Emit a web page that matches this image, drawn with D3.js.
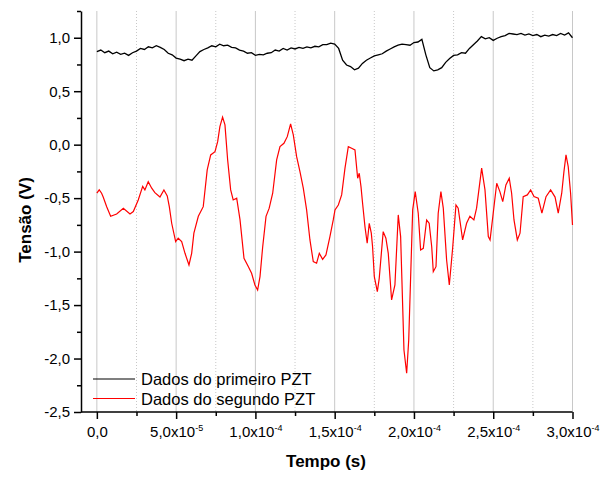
<!DOCTYPE html>
<html>
<head>
<meta charset="utf-8">
<script src="https://cdn.jsdelivr.net/npm/d3@7"></script>
<style>
  body { margin: 0; background: #fff; }
  text { font-family: Arial, "Liberation Sans", sans-serif; fill: #000; }
</style>
</head>
<body>
<div id="container"></div>
<script>
/* CONSTANTS AND GLOBALS */
const width = 601;
const height = 477;

// tick values
const xMajor = [0, 5e-5, 1e-4, 1.5e-4, 2e-4, 2.5e-4, 3e-4];
const xMinor = [2.5e-5, 7.5e-5, 1.25e-4, 1.75e-4, 2.25e-4, 2.75e-4];
const yMajor = [-2.5, -2.0, -1.5, -1.0, -0.5, 0.0, 0.5, 1.0];
const yMinor = [-2.25, -1.75, -1.25, -0.75, -0.25, 0.25, 0.75, 1.25];

const seriesNames = ["Dados do primeiro PZT", "Dados do segundo PZT"];

// [tempo (µs), tensão (V)]
const pzt1 = [
  [0,.87],[2.5,.885],[5,.86],[7.5,.875],[10,.85],[12.5,.865],[15,.845],[17.5,.855],[20,.835],[22.5,.86],
  [25,.875],[27.5,.9],[30,.89],[32.5,.915],[35,.905],[37.5,.925],[40,.91],[42.5,.89],[45,.855],[47.5,.84],
  [50,.81],[52.5,.8],[55,.785],[57.5,.8],[60,.79],[62.5,.83],[65,.87],[67.5,.89],[70,.905],[72.5,.925],
  [75,.915],[77.5,.94],[80,.925],[82.5,.93],[85,.91],[87.5,.905],[90,.885],[92.5,.875],[95,.855],[97.5,.86],
  [100,.835],[102.5,.845],[105,.84],[107.5,.855],[110,.86],[112.5,.885],[115,.875],[117.5,.9],[120,.885],[122.5,.905],
  [125,.895],[127.5,.91],[130,.9],[132.5,.915],[135,.905],[137.5,.92],[140,.915],[142.5,.935],[145,.935],[147.5,.95],
  [150,.94],[152.5,.9],[155,.79],[157.5,.745],[160,.73],[162.5,.7],[165,.715],[167.5,.76],[170,.79],[172.5,.81],
  [175,.83],[177.5,.84],[180,.85],[182.5,.875],[185,.895],[187.5,.915],[190,.93],[192.5,.94],[195,.935],[197.5,.93],
  [200,.955],[202.5,.96],[205,.985],[207.5,.84],[210,.72],[212.5,.69],[215,.7],[217.5,.72],[220,.77],[222.5,.805],
  [225,.835],[227.5,.84],[230,.86],[232.5,.855],[235,.9],[237.5,.935],[240,.97],[242.5,1.01],[245,.99],[247.5,1.0],
  [250,.975],[252.5,.995],[255,1.01],[257.5,1.02],[260,1.04],[262.5,1.035],[265,1.03],[267.5,1.04],[270,1.025],[272.5,1.035],
  [275,1.02],[277.5,1.03],[280,1.01],[282.5,1.025],[285,1.015],[287.5,1.03],[290,1.02],[292.5,1.04],[295,1.025],[297.5,1.045],
  [300,1.0]
];

const pzt2 = [
  [0,-.454],[1.5,-.423],[3,-.454],[4,-.49],[6.2,-.58],[8.7,-.67],[12.5,-.648],[16.7,-.594],[20.9,-.648],[23,-.626],
  [26.1,-.517],[28.9,-.39],[30.3,-.423],[32.4,-.346],[34.6,-.407],[36.6,-.449],[39.8,-.49],[42.3,-.423],[44.4,-.479],[45.7,-.58],
  [47.2,-.735],[49.7,-.907],[51.3,-.875],[53.5,-.907],[55.6,-1.016],[58.1,-1.125],[59.8,-1.016],[61.2,-.828],[64,-.67],[67.1,-.58],
  [69.6,-.236],[71.8,-.096],[74.5,-.065],[76.2,.028],[77.6,.169],[79.3,.257],[80.8,.185],[82.5,-.143],[84.4,-.423],[86,-.517],
  [88.2,-.501],[90.3,-.704],[92.8,-1.062],[95.5,-1.14],[97.6,-1.203],[99.7,-1.312],[101.4,-1.359],[102.9,-1.234],[104.6,-.954],[106.7,-.67],
  [108.7,-.594],[110.9,-.454],[113.4,-.143],[115.5,-.018],[118,.013],[120.1,.075],[122.2,.194],[123.9,.091],[126,-.112],[128.1,-.252],
  [130.2,-.407],[132.3,-.61],[134.4,-.891],[136.5,-1.094],[138.6,-1.109],[140.3,-1.016],[142.4,-1.072],[144.5,-1.031],[147,-.86],[149.1,-.704],
  [150.2,-.61],[152.3,-.564],[154.4,-.47],[156.5,-.22],[158.6,-.018],[160.7,-.033],[162.8,-.049],[164.5,-.314],[165.5,-.267],[166.6,-.392],
  [167.6,-.548],[169.1,-.767],[170.5,-.922],[171.8,-.735],[173.1,-.828],[173.9,-.954],[175,-1.234],[176.9,-1.375],[178.1,-1.25],[180.6,-.813],
  [182.3,-.875],[183.8,-1.016],[185.9,-1.452],[188,-1.312],[190.1,-.657],[191.6,-.86],[193.7,-1.92],[195.4,-2.138],[196.7,-1.826],[199.2,-.61],
  [200.8,-.439],[202.7,-.641],[204.2,-.985],[205.9,-.969],[208,-.704],[209.6,-.735],[211.2,-.954],[212.2,-1.188],[213.9,-1.141],[215.3,-.641],
  [217,-.439],[218.5,-.594],[220.6,-1.078],[222.3,-1.312],[224.4,-.969],[226.5,-.564],[227.9,-.594],[230.7,-.891],[233.2,-.735],[235.3,-.67],
  [237.8,-.704],[239.5,-.594],[242.7,-.22],[244.8,-.423],[246.9,-.86],[248,-.891],[250,-.641],[252.2,-.361],[254.2,-.439],[256,-.533],
  [258,-.376],[260.1,-.314],[261.6,-.454],[263.1,-.704],[265.2,-.891],[266.9,-.828],[268.9,-.486],[271.5,-.47],[273.6,-.423],[275.7,-.486],
  [278.4,-.501],[280.7,-.641],[283.3,-.486],[286.2,-.423],[289,-.49],[291,-.641],[293.2,-.454],[294.6,-.252],[295.9,-.096],[297.3,-.205],
  [298.8,-.454],[300,-.751]
];

/* SCALES */
const xScale = d3.scaleLinear().domain([-1e-5, 3e-4]).range([81, 572.5]);
const yScale = d3.scaleLinear().domain([-2.5, 1.25]).range([412, 11]);

const svg = d3.select("#container")
  .append("svg")
  .attr("width", width)
  .attr("height", height)
  .style("background-color", "white");

/* GRID */
svg.append("g").selectAll("line.major")
  .data(xMajor)
  .join("line")
  .attr("x1", d => xScale(d)).attr("x2", d => xScale(d))
  .attr("y1", yScale.range()[1]).attr("y2", yScale.range()[0])
  .attr("stroke", "#c8c8c8")
  .attr("stroke-width", 1);

svg.append("g").selectAll("line.minor")
  .data(xMinor)
  .join("line")
  .attr("x1", d => xScale(d)).attr("x2", d => xScale(d))
  .attr("y1", yScale.range()[1]).attr("y2", yScale.range()[0])
  .attr("stroke", "#c8c8c8")
  .attr("stroke-dasharray", "1,2")
  .attr("stroke-width", 1);

/* LINES */
const line = d3.line()
  .x(d => xScale(d[0] * 1e-6))
  .y(d => yScale(d[1]));

svg.append("path")
  .datum(pzt1)
  .attr("fill", "none")
  .attr("stroke", "#000")
  .attr("stroke-width", 1.3)
  .attr("d", line);

svg.append("path")
  .datum(pzt2)
  .attr("fill", "none")
  .attr("stroke", "#ff0000")
  .attr("stroke-width", 1.2)
  .attr("d", line);

/* AXES */
const comma = v => d3.format(".1f")(v).replace(".", ",").replace("−", "-");

const gy = svg.append("g")
  .attr("transform", `translate(${xScale.range()[0]},0)`)
  .call(d3.axisLeft(yScale).tickValues(yMajor).tickSize(7).tickSizeOuter(0).tickPadding(4).tickFormat(comma));
svg.append("g")
  .attr("transform", `translate(${xScale.range()[0]},0)`)
  .call(d3.axisLeft(yScale).tickValues(yMinor).tickSize(4).tickSizeOuter(0).tickFormat(""))
  .select(".domain").remove();

const gx = svg.append("g")
  .attr("transform", `translate(0,${yScale.range()[0]})`)
  .call(d3.axisBottom(xScale).tickValues(xMajor).tickSize(7).tickSizeOuter(0).tickPadding(10).tickFormat(""));
svg.append("g")
  .attr("transform", `translate(0,${yScale.range()[0]})`)
  .call(d3.axisBottom(xScale).tickValues(xMinor).tickSize(4).tickSizeOuter(0).tickFormat(""))
  .select(".domain").remove();

// x domain line should start at the y axis
gx.select(".domain").attr("d", `M${xScale.range()[0]},0H${xScale.range()[1]}`);

svg.selectAll(".domain, .tick line").attr("stroke", "#000").attr("stroke-width", 1.5);
gy.selectAll("text").style("font-size", "15px").attr("font-family", null);

// x labels as mantissa x 10 with superscript exponent
gx.selectAll(".tick").each(function(d) {
  const t = d3.select(this).append("text")
    .attr("y", 25)
    .attr("text-anchor", "middle")
    .style("font-size", "15px");
  if (d === 0) { t.text("0,0"); return; }
  const e = Math.floor(Math.log10(d) + 1e-9);
  const m = d / Math.pow(10, e);
  t.append("tspan").text(m.toFixed(1).replace(".", ",") + "x10");
  t.append("tspan").attr("dy", -6).style("font-size", "9px").text("-" + Math.abs(e));
});

/* TITLES */
svg.append("text")
  .attr("x", 326).attr("y", 467)
  .attr("text-anchor", "middle")
  .style("font-size", "17px").style("font-weight", "bold")
  .text("Tempo (s)");

svg.append("text")
  .attr("transform", "translate(31,220) rotate(-90)")
  .attr("text-anchor", "middle")
  .style("font-size", "17px").style("font-weight", "bold")
  .text("Tensão (V)");

/* LEGEND */
const legend = svg.append("g").selectAll("g")
  .data(seriesNames)
  .join("g")
  .attr("transform", (d, i) => `translate(93,${379 + i * 19.5})`);
legend.append("line")
  .attr("x1", 0).attr("x2", 42)
  .attr("stroke", (d, i) => i ? "#ff0000" : "#000")
  .attr("stroke-width", 1.1);
legend.append("text")
  .attr("x", 48).attr("y", 6)
  .style("font-size", "16.5px")
  .text(d => d);
</script>
</body>
</html>
